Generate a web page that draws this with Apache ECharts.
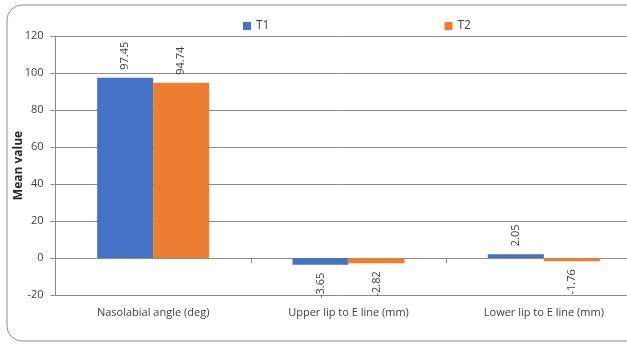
<!DOCTYPE html>
<html>
<head>
<meta charset="utf-8">
<script src="https://cdn.jsdelivr.net/npm/echarts@6/dist/echarts.min.js"></script>
<style>
    html, body { margin: 0; padding: 0; background: #fff; overflow: hidden; }
    #chart { width: 627px; height: 352px; }
</style>
</head>
<body>
<div id="chart"></div>
<script>
const categories = ['Nasolabial angle (deg)', 'Upper lip to E line (mm)', 'Lower lip to E line (mm)'];
const t1Values = [97.45, -3.65, 2.05];
const t2Values = [94.74, -2.82, -1.76];
const yTicks = { min: -20, max: 120, interval: 20 };

// 柱子标签：正值在上，负值在下，竖排
function withLabels(values) {
    return values.map(function (v) {
        return {
            value: v,
            label: v >= 0
                ? { position: 'top', align: 'left', verticalAlign: 'middle' }
                : { position: 'bottom', align: 'right', verticalAlign: 'middle' }
        };
    });
}

const labelStyle = {
    show: true,
    rotate: 90,
    distance: 8,
    fontSize: 11,
    color: '#404040',
    fontFamily: 'Open Sans',
    formatter: function (p) { return p.value.toFixed(2); }
};

const chart = echarts.init(document.getElementById('chart'));
chart.setOption({
    animation: false,
    textStyle: { fontFamily: 'Open Sans' },
    graphic: [{
        type: 'rect',
        shape: { x: 7, y: 5, width: 720, height: 336, r: 15 },
        style: { fill: 'none', stroke: '#8c8c8c', lineWidth: 1 },
        z: -1
    }],
    legend: {
        left: 238,
        top: 15,
        itemWidth: 8,
        itemHeight: 8,
        itemGap: 175,
        icon: 'rect',
        textStyle: { fontSize: 12, color: '#404040' },
        data: ['T1', 'T2']
    },
    grid: {
        left: 55.5,
        right: -14.5,
        top: 36,
        bottom: 57,
        outerBoundsMode: 'none'
    },
    xAxis: [{
        type: 'category',
        data: categories,
        position: 'bottom',
        axisLine: { show: false, onZero: false },
        axisTick: { show: false },
        axisLabel: { fontSize: 11, color: '#404040', margin: 12 }
    }, {
        type: 'category',
        data: categories,
        position: 'bottom',
        axisLine: { show: true, onZero: true, lineStyle: { color: '#8c8c8c' } },
        axisTick: { show: true, length: 5, lineStyle: { color: '#8c8c8c' } },
        axisLabel: { show: false }
    }],
    yAxis: {
        type: 'value',
        min: yTicks.min,
        max: yTicks.max,
        interval: yTicks.interval,
        name: 'Mean value',
        nameLocation: 'middle',
        nameGap: 31,
        nameMoveOverlap: false,
        nameTextStyle: { fontSize: 12, fontWeight: 'bold', color: '#262626' },
        axisLine: { show: true, lineStyle: { color: '#8c8c8c' } },
        axisTick: { show: true, length: 5, lineStyle: { color: '#8c8c8c' } },
        axisLabel: { fontSize: 11, color: '#404040', margin: 12 },
        splitLine: { lineStyle: { color: '#8c8c8c' } }
    },
    series: [{
        name: 'T1',
        type: 'bar',
        data: withLabels(t1Values),
        barWidth: 56,
        barGap: '0%',
        itemStyle: { color: '#4472C4' },
        label: labelStyle
    }, {
        name: 'T2',
        type: 'bar',
        data: withLabels(t2Values),
        barWidth: 56,
        barGap: '0%',
        itemStyle: { color: '#ED7D31' },
        label: labelStyle
    }]
});
</script>
</body>
</html>
